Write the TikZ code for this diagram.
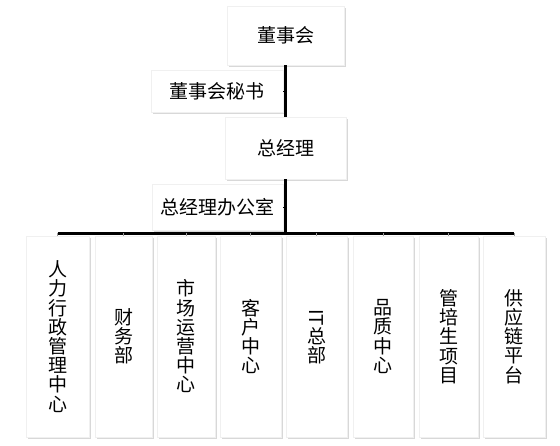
\documentclass[tikz,border=0pt]{standalone}
\usepackage{fontspec}
\usepackage{graphicx}
\setmainfont{Noto Sans CJK SC}
\usetikzlibrary{shadows}

\tikzset{
	post/.style={fill=white,draw=black!6,inner sep=0pt,
		drop shadow={shadow xshift=1.5pt,shadow yshift=-1.5pt,fill=black!30,opacity=0.5},
		font=\fontsize{19}{19.2}\selectfont},
	dept/.style={post,align=center,minimum height=201pt},
	link/.style={line width=3pt},
	tick/.style={draw=black!40,line width=1pt}
}

\begin{document}
\begin{tikzpicture}[x=1pt,y=-1pt]
	\useasboundingbox (0,0) rectangle (560,445);
	\node [post,minimum width=117pt,minimum height=59pt] (board) at (285.5,35.5) {董事会};
	\node [post,minimum width=132pt,minimum height=42pt] (sec) at (217,91) {董事会秘书};
	\node [post,minimum width=121pt,minimum height=62pt] (gm) at (285.5,148) {总经理};
	\node [post,minimum width=131pt,minimum height=46pt] (office) at (217.5,207) {总经理办公室};
	\node [dept,minimum width=63pt] (hr) at (57.5,336.5) {人\\力\\行\\政\\管\\理\\中\\心};
	\node [dept,minimum width=57pt] (fin) at (123.5,336.5) {财\\务\\部};
	\node [dept,minimum width=58pt] (mkt) at (186,336.5) {市\\场\\运\\营\\中\\心};
	\node [dept,minimum width=61pt] (cust) at (250.5,336.5) {客\\户\\中\\心};
	\node [dept,minimum width=61pt] (it) at (316.5,336.5) {\rotatebox{-90}{IT}\\总\\部};
	\node [dept,minimum width=60pt] (qc) at (383,336.5) {品\\质\\中\\心};
	\node [dept,minimum width=59pt] (mt) at (448.5,336.5) {管\\培\\生\\项\\目};
	\node [dept,minimum width=62pt] (scm) at (514,336.5) {供\\应\\链\\平\\台};
	\coordinate (bus) at (286,233);
	\draw [link] (board.south) -- (gm.north) (gm.south) -- (gm.south |- bus);
	\draw [link] (hr.north |- bus) -- (scm.north |- bus);
	\draw [thick] (sec.east) -- (sec.east -| board.south) (office.east) -- (office.east -| gm.south);
	\draw [tick] (hr.north) -- (hr.north |- bus) (fin.north) -- (fin.north |- bus) (mkt.north) -- (mkt.north |- bus) (cust.north) -- (cust.north |- bus);
	\draw [tick] (it.north) -- (it.north |- bus) (qc.north) -- (qc.north |- bus) (mt.north) -- (mt.north |- bus) (scm.north) -- (scm.north |- bus);
\end{tikzpicture}
\end{document}
